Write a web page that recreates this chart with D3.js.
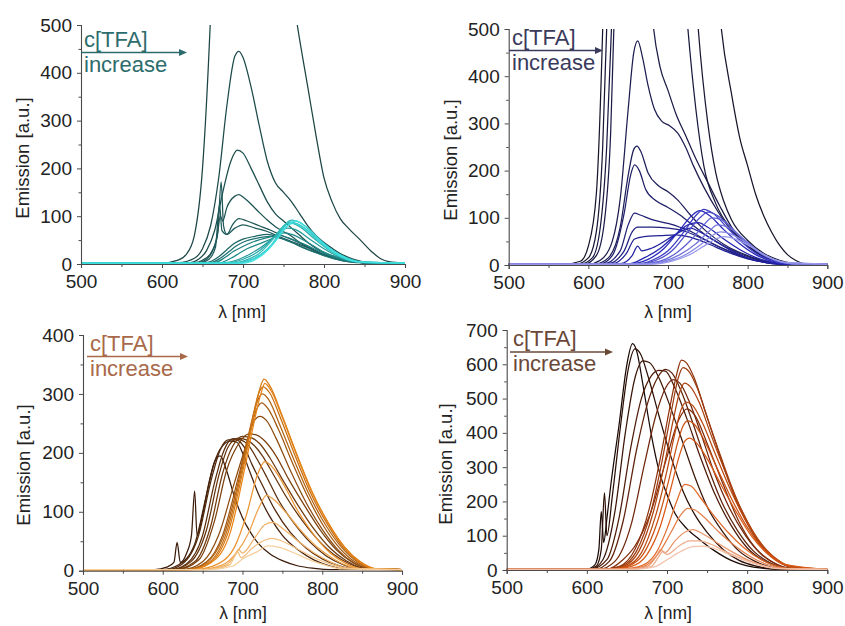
<!DOCTYPE html>
<html>
<head>
<meta charset="utf-8">
<script src="https://cdn.jsdelivr.net/npm/d3@7"></script>
<style>
  body { margin: 0; background: #fff; }
  svg { display: block; }
  text { font-family: "Liberation Sans", Arial, Helvetica, sans-serif; }
</style>
</head>
<body>
<svg id="chart" width="845" height="626"></svg>
<script>
// ---- tick labels ----
const xTicks = [500, 600, 700, 800, 900];
const xMinorTicks = [550, 650, 750, 850];
const yTicks500 = [0, 100, 200, 300, 400, 500];
const yTicks400 = [0, 100, 200, 300, 400];
const yTicks700 = [0, 100, 200, 300, 400, 500, 600, 700];

// ---- emission spectra, [wavelength nm, emission a.u.], ordered by TFA concentration ----
const tealSpectra = [
  [[500,2],[600,2],[620,8],[630,20],[640,60],[650,200],[660,520],[670,1000],[700,1500],[740,1000],[760,580],[767,500],[780,370],[790,270],[800,180],[810,130],[820,95],[830,75],[845,50],[860,24],[870,11],[880,5],[900,2]],
  [[500,2],[620,3],[640,12],[650,32],[660,80],[670,180],[680,330],[690,435],[695,445],[700,432],[710,370],[720,290],[730,215],[740,170],[750,150],[760,130],[770,105],[780,80],[790,60],[800,45],[810,33],[820,22],[830,14],[840,8],[850,4],[870,2],[900,2]],
  [[500,2],[635,3],[645,10],[655,28],[665,70],[675,150],[685,215],[693,238],[700,232],[710,200],[720,165],[730,130],[740,105],[750,90],[760,75],[770,60],[780,45],[790,33],[800,24],[820,12],[840,5],[860,2],[900,2]],
  [[500,2],[640,3],[650,8],[660,22],[668,55],[672,100],[675,90],[680,118],[690,142],[695,145],[700,140],[710,125],[720,108],[730,92],[740,78],[750,68],[760,58],[770,45],[780,35],[790,26],[800,19],[820,9],[840,4],[860,2],[900,2]],
  [[500,2],[645,3],[655,10],[663,30],[669,70],[673,172],[676,80],[680,62],[687,82],[695,95],[705,90],[720,80],[735,70],[750,58],[765,48],[780,36],[800,20],[820,10],[840,4],[860,2],[900,2]],
  [[500,2],[648,3],[658,10],[666,35],[671,125],[674,70],[680,62],[690,75],[700,82],[715,75],[730,68],[745,57],[760,47],[780,34],[800,20],[820,10],[840,4],[860,2],[900,2]],
  [[500,2],[655,3],[670,15],[680,30],[690,44],[700,52],[715,58],[730,62],[745,55],[760,45],[780,30],[800,18],[820,8],[840,3],[900,2]],
  [[500,2],[660,3],[672,12],[682,25],[692,38],[702,47],[720,55],[735,58],[750,52],[770,38],[790,24],[810,12],[830,5],[900,2]],
  [[500,2],[665,3],[678,14],[688,26],[698,35],[712,46],[730,55],[745,60],[760,52],[780,38],[800,22],[820,10],[840,4],[900,2]],
  [[500,2],[670,2],[685,12],[695,22],[705,32],[720,42],[738,55],[750,65],[760,62],[780,45],[800,25],[820,12],[840,4],[900,2]],
  [[500,2],[678,3],[695,10],[710,22],[725,38],[740,58],[755,75],[765,72],[780,55],[800,32],[820,14],[840,5],[900,2]],
  [[500,2],[683,3],[700,10],[715,22],[730,42],[745,68],[758,86],[770,78],[790,50],[810,25],[830,10],[850,3],[900,2]],
  [[500,2],[688,2],[705,9],[720,22],[735,48],[750,80],[760,92],[772,85],[790,58],[810,30],[830,12],[850,4],[900,2]],
  [[500,2],[690,2],[708,8],[722,20],[735,40],[748,72],[758,88],[770,82],[790,55],[810,28],[830,11],[850,3],[900,2]],
  [[500,2],[695,2],[712,9],[726,24],[740,50],[752,76],[762,85],[775,75],[795,45],[815,20],[840,5],[900,2]],
  [[500,2],[700,2],[716,10],[730,28],[744,56],[755,80],[765,90],[778,78],[800,42],[820,18],[845,4],[900,2]]
];

const blueSpectra = [
  [[500,2],[570,2],[590,8],[600,40],[610,150],[618,500],[630,1500],[700,2500],[750,900],[767,500],[780,360],[790,270],[800,210],[810,150],[820,105],[830,70],[840,42],[850,22],[860,10],[870,3],[880,2],[900,2]],
  [[500,2],[585,2],[600,15],[610,70],[618,250],[623,500],[635,1300],[700,1800],[730,700],[738,500],[750,300],[760,195],[770,135],[780,95],[800,52],[820,25],[840,10],[860,3],[900,2]],
  [[500,2],[590,2],[605,15],[615,80],[623,250],[629,500],[640,1100],[700,1000],[718,650],[725,500],[735,330],[745,210],[760,130],[780,75],[800,40],[820,18],[840,7],[860,2],[900,2]],
  [[500,2],[595,2],[610,20],[620,90],[628,280],[632,500],[645,900],[665,900],[676,620],[682,500],[690,420],[700,370],[710,320],[722,275],[735,225],[750,175],[765,125],[780,80],[800,42],[820,18],[840,6],[860,2],[900,2]],
  [[500,2],[600,2],[615,10],[630,50],[640,140],[650,330],[657,450],[662,475],[668,440],[675,380],[683,330],[692,305],[702,295],[712,280],[722,250],[732,210],[745,165],[762,115],[780,72],[800,40],[820,18],[840,6],[860,2],[900,2]],
  [[500,2],[610,3],[625,15],[640,80],[650,190],[657,245],[661,252],[666,240],[675,195],[688,168],[700,155],[712,138],[725,112],[740,84],[758,58],[778,36],[800,20],[820,9],[840,3],[900,2]],
  [[500,2],[615,3],[630,20],[645,110],[653,190],[658,212],[664,200],[672,160],[685,136],[700,122],[715,106],[730,86],[745,66],[765,45],[785,28],[805,15],[825,6],[845,2],[900,2]],
  [[500,2],[620,3],[640,30],[650,85],[658,110],[665,106],[680,96],[700,88],[715,80],[730,70],[745,55],[765,38],[785,24],[805,12],[825,5],[845,2],[900,2]],
  [[500,2],[625,3],[645,30],[655,70],[662,80],[680,80],[700,78],[720,72],[735,62],[750,50],[770,34],[790,20],[810,10],[830,4],[900,2]],
  [[500,2],[630,3],[648,25],[658,55],[670,60],[690,62],[710,64],[725,60],[740,52],[760,38],[780,24],[800,13],[820,6],[840,2],[900,2]],
  [[500,2],[640,3],[655,20],[662,40],[667,30],[680,36],[700,55],[715,70],[728,78],[740,70],[760,50],[780,30],[800,15],[820,6],[840,2],[900,2]],
  [[500,2],[650,2],[670,15],[690,35],[710,65],[725,85],[738,90],[750,80],[770,55],[790,33],[810,16],[830,6],[850,2],[900,2]],
  [[500,2],[650,2],[675,12],[695,35],[715,75],[730,105],[740,115],[752,105],[770,75],[790,45],[810,22],[830,8],[850,2],[900,2]],
  [[500,2],[660,2],[680,10],[700,30],[720,70],[735,105],[745,118],[756,110],[775,78],[795,45],[815,20],[835,7],[855,2],[900,2]],
  [[500,2],[660,2],[685,10],[705,30],[725,70],[740,100],[750,112],[762,105],[780,78],[800,45],[820,20],[840,7],[860,2],[900,2]],
  [[500,2],[665,2],[690,8],[710,25],[730,55],[745,85],[755,100],[768,95],[785,70],[805,40],[825,17],[845,5],[900,2]],
  [[500,2],[670,2],[695,8],[715,22],[735,45],[752,72],[762,85],[775,80],[795,55],[815,28],[835,10],[855,3],[900,2]],
  [[500,2],[675,2],[700,8],[720,20],[740,42],[755,62],[766,70],[780,65],[800,45],[820,22],[840,8],[860,2],[900,2]],
  [[500,2],[680,2],[705,8],[725,20],[745,40],[760,55],[770,60],[785,55],[805,38],[825,18],[845,6],[900,2]]
];

const brownSpectra = [
  [[500,2],[590,2],[605,6],[614,14],[618,48],[622,14],[630,30],[636,60],[640,135],[643,60],[650,95],[658,150],[665,185],[672,195],[680,170],[690,125],[700,90],[710,65],[720,46],[735,28],[750,17],[770,8],[790,4],[810,2],[900,2]],
  [[500,2],[600,2],[620,10],[640,45],[655,130],[665,185],[675,212],[685,220],[693,218],[700,200],[710,165],[720,130],[735,90],[750,60],[770,35],[790,18],[810,8],[830,3],[900,2]],
  [[500,2],[605,2],[625,12],[645,60],[660,150],[672,205],[682,222],[692,222],[702,210],[712,180],[725,145],[740,105],[760,65],[780,38],[800,20],[820,9],[840,3],[900,2]],
  [[500,2],[610,2],[630,12],[650,60],[665,150],[677,205],[688,224],[698,222],[708,212],[718,190],[730,160],[745,120],[765,80],[785,48],[805,25],[825,11],[845,3],[900,2]],
  [[500,2],[612,2],[635,15],[655,70],[670,160],[682,210],[695,225],[705,222],[715,212],[725,195],[738,165],[755,125],[775,85],[795,52],[815,27],[835,11],[855,3],[900,2]],
  [[500,2],[615,2],[640,15],[660,75],[675,165],[688,212],[700,228],[712,225],[722,215],[735,190],[750,155],[770,110],[790,70],[810,38],[830,17],[850,5],[900,2]],
  [[500,2],[618,2],[645,18],[665,85],[680,170],[695,215],[708,232],[718,230],[728,220],[742,195],[758,155],[778,110],[798,68],[818,35],[838,14],[858,4],[900,2]],
  [[500,2],[625,2],[650,15],[670,60],[690,150],[705,215],[715,255],[722,262],[730,255],[742,225],[760,170],[780,115],[800,70],[820,35],[840,13],[860,3],[900,2]],
  [[500,2],[630,2],[655,15],[675,60],[695,160],[708,230],[718,275],[724,285],[732,275],[745,240],[762,185],[782,125],[802,75],[822,38],[842,14],[862,3],[900,2]],
  [[500,2],[630,2],[655,14],[678,65],[698,170],[710,245],[720,292],[725,300],[733,290],[746,250],[764,190],[784,128],[804,78],[824,40],[844,15],[864,3],[900,2]],
  [[500,2],[632,2],[658,14],[680,65],[700,175],[712,255],[720,300],[726,312],[734,302],[748,258],[766,195],[786,130],[806,80],[826,40],[846,15],[866,3],[900,2]],
  [[500,2],[635,2],[660,14],[682,65],[702,180],[714,262],[722,310],[727,325],[735,312],[750,262],[768,198],[788,132],[808,80],[828,40],[848,15],[868,3],[900,2]],
  [[500,2],[635,2],[660,13],[684,62],[703,175],[715,255],[723,300],[728,318],[736,305],[750,260],[768,196],[788,130],[808,80],[828,40],[848,14],[868,3],[900,2]],
  [[500,2],[640,2],[670,12],[690,40],[705,95],[718,160],[728,185],[738,175],[752,145],[770,100],[790,60],[810,30],[830,12],[850,3],[900,2]],
  [[500,2],[645,2],[675,10],[692,30],[708,65],[720,105],[730,128],[740,120],[755,98],[772,70],[792,42],[812,22],[832,8],[852,2],[900,2]],
  [[500,2],[650,2],[680,10],[691,28],[695,36],[700,30],[715,55],[728,78],[738,82],[752,70],[770,50],[790,30],[810,15],[830,5],[900,2]],
  [[500,2],[655,2],[684,10],[690,24],[694,32],[698,22],[712,38],[725,50],[737,55],[750,50],[770,36],[790,22],[810,11],[830,4],[900,2]],
  [[500,2],[660,2],[688,8],[700,20],[718,32],[732,42],[745,40],[765,30],[785,18],[805,9],[825,3],[900,2]]
];

const redSpectra = [
  [[500,2],[600,3],[610,15],[615,60],[618,170],[621,80],[625,150],[630,250],[640,420],[650,600],[657,660],[662,640],[670,540],[680,400],[690,290],[700,220],[710,165],[725,120],[740,90],[760,55],[780,28],[800,12],[820,5],[840,2],[900,2]],
  [[500,2],[600,2],[612,12],[618,60],[622,225],[625,100],[632,220],[642,420],[652,590],[660,645],[667,630],[677,560],[690,450],[705,330],[720,230],[735,160],[750,110],[770,60],[790,28],[810,12],[830,4],[900,2]],
  [[500,2],[605,2],[620,30],[635,170],[648,400],[660,560],[670,610],[678,605],[690,560],[705,470],[720,370],[735,270],[750,185],[770,110],[790,55],[810,25],[830,8],[850,2],[900,2]],
  [[500,2],[605,2],[625,30],[640,150],[655,360],[668,500],[680,565],[690,582],[698,580],[710,530],[725,440],[740,340],[760,220],[780,130],[800,65],[820,28],[840,9],[860,2],[900,2]],
  [[500,2],[610,2],[628,25],[645,140],[662,350],[675,480],[688,560],[698,585],[706,575],[718,520],[732,430],[748,320],[768,200],[788,115],[808,55],[828,22],[848,6],[900,2]],
  [[500,2],[615,2],[635,25],[655,130],[672,310],[686,450],[698,530],[708,555],[716,545],[728,490],[742,400],[758,290],[778,180],[798,100],[818,45],[838,16],[858,4],[900,2]],
  [[500,2],[625,2],[645,30],[660,70],[680,170],[700,330],[715,440],[725,470],[735,450],[750,370],[770,250],[790,140],[810,65],[830,25],[850,6],[900,2]],
  [[500,2],[620,2],[640,10],[660,60],[678,180],[692,330],[704,480],[712,570],[718,612],[724,605],[734,560],[748,460],[765,340],[785,210],[805,115],[825,50],[845,16],[865,3],[900,2]],
  [[500,2],[620,2],[642,10],[662,55],[680,170],[694,320],[706,470],[714,560],[720,590],[727,580],[737,535],[751,440],[768,325],[788,200],[808,108],[828,46],[848,14],[868,3],[900,2]],
  [[500,2],[625,2],[645,10],[665,55],[683,170],[697,310],[708,440],[716,520],[722,545],[729,535],[740,490],[754,400],[772,290],[792,180],[812,95],[832,40],[852,12],[900,2]],
  [[500,2],[625,2],[648,10],[668,50],[686,160],[700,290],[710,400],[718,470],[724,490],[732,480],[744,430],[760,340],[778,240],[798,145],[818,75],[838,30],[858,8],[900,2]],
  [[500,2],[630,2],[650,10],[670,45],[688,140],[702,260],[712,360],[720,420],[726,435],[734,425],[746,380],[762,300],[780,210],[800,125],[820,62],[840,24],[860,6],[900,2]],
  [[500,2],[630,2],[655,10],[675,45],[692,130],[705,240],[715,330],[722,375],[728,385],[737,370],[750,325],[766,255],[785,175],[805,100],[825,48],[845,17],[900,2]],
  [[500,2],[640,2],[665,10],[685,45],[700,120],[712,200],[722,250],[730,245],[742,210],[758,160],[776,110],[796,65],[816,32],[836,12],[856,3],[900,2]],
  [[500,2],[645,2],[670,10],[690,50],[705,110],[717,160],[726,180],[735,175],[748,150],[765,110],[785,70],[805,38],[825,16],[845,5],[900,2]],
  [[500,2],[650,2],[675,10],[688,45],[692,60],[697,50],[710,85],[722,110],[732,118],[745,105],[762,80],[782,52],[802,28],[822,12],[842,4],[900,2]],
  [[500,2],[655,2],[680,10],[690,40],[695,55],[700,45],[715,70],[728,85],[740,85],[755,75],[772,55],[792,34],[812,17],[832,6],[900,2]],
  [[500,2],[660,2],[685,10],[700,30],[718,55],[732,68],[745,70],[760,62],[778,45],[798,27],[818,13],[838,4],[900,2]]
];

// ---- colour ramps (dark = low TFA, light = high TFA) ----
const tealRamp  = ["#1c4444", "#1d5c5c", "#1f8c8c", "#3fe2e2"];
const blueRamp  = ["#16162c", "#1f1f5e", "#2323b8", "#9a9aec"];
const brownRamp = ["#3a1a08", "#7a400e", "#e88414", "#f6cf9c"];
const redRamp   = ["#1a0904", "#7a2a0c", "#dc5a14", "#f2c2aa"];

const svg = d3.select("#chart");

const panels = [
  { data: tealSpectra,  ramp: tealRamp,  stops: [0, 0.35, 0.6, 1], ticks: yTicks500, ymax: 500,
    x0: 81, x1: 405, yb: 264, yt: 25, ylab: [22, 158], xlab: [242, 318],
    note: { x: 81, y: 52.5, len: 106, color: "#2d6c6c" } },
  { data: blueSpectra,  ramp: blueRamp,  stops: [0, 0.3, 0.65, 1], ticks: yTicks500, ymax: 500,
    x0: 508.7, x1: 827.3, yb: 265, yt: 29, ylab: [450, 160], xlab: [668, 318],
    note: { x: 509, y: 50.5, len: 94, color: "#3a3a5c" } },
  { data: brownSpectra, ramp: brownRamp, stops: [0, 0.35, 0.7, 1], ticks: yTicks400, ymax: 400,
    x0: 83, x1: 402, yb: 570.7, yt: 335, ylab: [23, 465], xlab: [243, 619],
    note: { x: 87, y: 356.5, len: 101, color: "#a8694a" } },
  { data: redSpectra,   ramp: redRamp,   stops: [0, 0.33, 0.72, 1], ticks: yTicks700, ymax: 700,
    x0: 506.7, x1: 827.3, yb: 570, yt: 330, ylab: [445, 464], xlab: [668, 619],
    note: { x: 510, y: 352, len: 103, color: "#6a4838" } }
];

panels.forEach((p, pi) => {
  const x = d3.scaleLinear().domain([500, 900]).range([p.x0, p.x1]);
  const y = d3.scaleLinear().domain([0, p.ymax]).range([p.yb, p.yt]);
  const g = svg.append("g");

  const clipId = "clip" + pi;
  svg.append("clipPath").attr("id", clipId)
    .append("rect").attr("x", p.x0).attr("y", p.yt)
    .attr("width", p.x1 - p.x0).attr("height", p.yb - p.yt);

  const color = d3.scaleLinear().domain(p.stops).range(p.ramp).interpolate(d3.interpolateRgb);
  const n = p.data.length;

  const line = d3.line()
    .x(d => x(d[0]))
    .y(d => y(d[1]))
    .curve(d3.curveMonotoneX);

  g.append("g").attr("clip-path", `url(#${clipId})`)
    .selectAll("path")
    .data(p.data)
    .join("path")
    .attr("d", line)
    .attr("fill", "none")
    .attr("stroke", (d, i) => color(i / (n - 1)))
    .attr("stroke-width", 1.25)
    .attr("stroke-linejoin", "round");

  // axes
  const xAxis = d3.axisBottom(x).tickValues(xTicks).tickSize(4).tickPadding(7).tickFormat(d3.format("d"));
  const xMinor = d3.axisBottom(x).tickValues(xMinorTicks).tickSize(3).tickFormat("");
  const yAxis = d3.axisLeft(y).tickValues(p.ticks).tickSize(4).tickPadding(5).tickFormat(d3.format("d"));
  const yMinorVals = d3.range(50, p.ymax, 100);
  const yMinor = d3.axisLeft(y).tickValues(yMinorVals).tickSize(2.5).tickFormat("");

  const styleAxis = sel => {
    sel.select(".domain").attr("stroke", "#4a4a4a").attr("stroke-width", 1.1);
    sel.selectAll(".tick line").attr("stroke", "#4a4a4a").attr("stroke-width", 1);
    sel.selectAll(".tick text").attr("fill", "#222").style("font-size", "19px");
  };

  g.append("g").attr("transform", `translate(0,${p.yb})`).call(xMinor).call(styleAxis)
    .select(".domain").remove();
  g.append("g").attr("transform", `translate(0,${p.yb})`).call(xAxis).call(styleAxis);
  g.append("g").attr("transform", `translate(${p.x0},0)`).call(yMinor).call(styleAxis)
    .select(".domain").remove();
  g.append("g").attr("transform", `translate(${p.x0},0)`).call(yAxis).call(styleAxis);

  // axis titles
  g.append("text")
    .attr("transform", `translate(${p.ylab[0]},${p.ylab[1]}) rotate(-90)`)
    .attr("text-anchor", "middle").attr("dominant-baseline", "central")
    .attr("fill", "#222").style("font-size", "18.5px")
    .text("Emission [a.u.]");
  g.append("text")
    .attr("x", p.xlab[0]).attr("y", p.xlab[1])
    .attr("text-anchor", "middle")
    .attr("fill", "#222").style("font-size", "17.5px")
    .text("λ [nm]");

  // concentration arrow
  const nt = p.note;
  const ng = g.append("g").attr("fill", nt.color);
  ng.append("text").attr("x", nt.x + 3).attr("y", nt.y - 6)
    .style("font-size", "22px").text("c[TFA]");
  ng.append("line")
    .attr("x1", nt.x).attr("x2", nt.x + nt.len - 4)
    .attr("y1", nt.y).attr("y2", nt.y)
    .attr("stroke", nt.color).attr("stroke-width", 1.6);
  ng.append("path")
    .attr("d", `M${nt.x + nt.len},${nt.y} l-8,-3.5 l0,7 z`);
  ng.append("text").attr("x", nt.x + 3).attr("y", nt.y + 19)
    .style("font-size", "22px").text("increase");
});
</script>
</body>
</html>
